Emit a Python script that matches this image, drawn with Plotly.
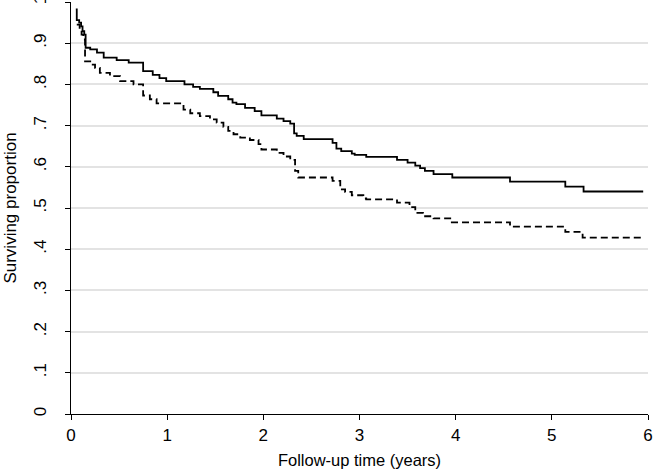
import plotly.graph_objects as go

# Solid curve: (time in years at which the step occurs, surviving proportion after the step)
solid_t = [0.05, 0.06, 0.085, 0.105, 0.12, 0.138, 0.152, 0.20, 0.27, 0.34, 0.475, 0.60, 0.75, 0.85,
           0.92, 0.99, 1.18, 1.27, 1.34, 1.48, 1.53, 1.635, 1.68, 1.72, 1.81, 1.91, 1.98, 2.14, 2.21,
           2.28, 2.32, 2.347, 2.42, 2.72, 2.76, 2.81, 2.92, 2.95, 3.07, 3.39, 3.50, 3.58, 3.63, 3.68,
           3.77, 3.965, 4.565, 5.14, 5.33, 5.95]
solid_s = [0.982, 0.956, 0.95, 0.941, 0.929, 0.921, 0.889, 0.885, 0.877, 0.865, 0.859, 0.853, 0.832, 0.823,
           0.815, 0.808, 0.80, 0.794, 0.789, 0.781, 0.772, 0.764, 0.756, 0.752, 0.743, 0.735, 0.725, 0.717, 0.711,
           0.705, 0.681, 0.675, 0.667, 0.658, 0.644, 0.638, 0.632, 0.629, 0.624, 0.617, 0.61, 0.603, 0.597, 0.59,
           0.582, 0.574, 0.564, 0.552, 0.54, 0.54]

# Dashed curve
dash_t = [0.06, 0.09, 0.11, 0.128, 0.146, 0.20, 0.25, 0.30, 0.405, 0.51, 0.65, 0.75, 0.82, 0.89, 1.17,
          1.24, 1.34, 1.445, 1.515, 1.585, 1.635, 1.69, 1.76, 1.86, 1.95, 1.98, 2.14, 2.21, 2.28, 2.33,
          2.363, 2.72, 2.80, 2.85, 2.92, 3.04, 3.07, 3.39, 3.52, 3.58, 3.66, 3.77, 3.96, 4.565, 5.14,
          5.32, 5.95]
dash_s = [0.945, 0.933, 0.921, 0.909, 0.856, 0.848, 0.84, 0.828, 0.82, 0.808, 0.80, 0.773, 0.764, 0.754, 0.739,
          0.73, 0.723, 0.715, 0.707, 0.697, 0.687, 0.679, 0.671, 0.665, 0.655, 0.642, 0.634, 0.625, 0.617, 0.59,
          0.574, 0.566, 0.545, 0.539, 0.531, 0.523, 0.521, 0.513, 0.502, 0.488, 0.48, 0.475, 0.465, 0.455, 0.442,
          0.428, 0.428]

y_tickvals = [0, 0.1, 0.2, 0.3, 0.4, 0.5, 0.6, 0.7, 0.8, 0.9, 1.0]
y_ticktext = ["0", ".1", ".2", ".3", ".4", ".5", ".6", ".7", ".8", ".9", "1"]
x_tickvals = [0, 1, 2, 3, 4, 5, 6]
x_ticktext = ["0", "1", "2", "3", "4", "5", "6"]

FONT = "Liberation Sans, Arial, sans-serif"

fig = go.Figure()
fig.add_trace(go.Scatter(x=solid_t, y=solid_s, mode="lines", line_shape="hv",
                         line=dict(color="black", width=1.8), showlegend=False))
fig.add_trace(go.Scatter(x=dash_t, y=dash_s, mode="lines", line_shape="hv",
                         line=dict(color="black", width=1.8, dash="7px,4px"), showlegend=False))

fig.update_layout(
    width=654, height=471,
    margin=dict(l=71, r=6, t=2, b=57),
    paper_bgcolor="white", plot_bgcolor="white",
    font=dict(family=FONT, size=17, color="black"),
    xaxis=dict(range=[0, 6], tickvals=x_tickvals, ticktext=x_ticktext, automargin=False,
               ticklabeloverflow="allow",
               showgrid=False, zeroline=False, showline=True, linecolor="black", linewidth=1.3,
               ticks="outside", ticklen=5, tickwidth=1.2, tickcolor="black",
               title=dict(text="Follow-up time (years)", font=dict(size=16.5), standoff=10)),
    yaxis=dict(range=[0, 1], tickvals=y_tickvals, ticktext=y_ticktext, tickangle=-90, automargin=False,
               ticklabelstandoff=12, ticklabeloverflow="allow",
               showgrid=True, gridcolor="#e3e3e3", gridwidth=1.6,
               zeroline=False, showline=True, linecolor="black", linewidth=1.3,
               ticks="outside", ticklen=5, tickwidth=1.2, tickcolor="black",
               title=dict(text="Surviving proportion", font=dict(size=17), standoff=10)),
)

fig.write_html("out.html", config={"displayModeBar": False},
               post_script="document.body.style.margin='0';document.body.style.overflow='hidden';")
